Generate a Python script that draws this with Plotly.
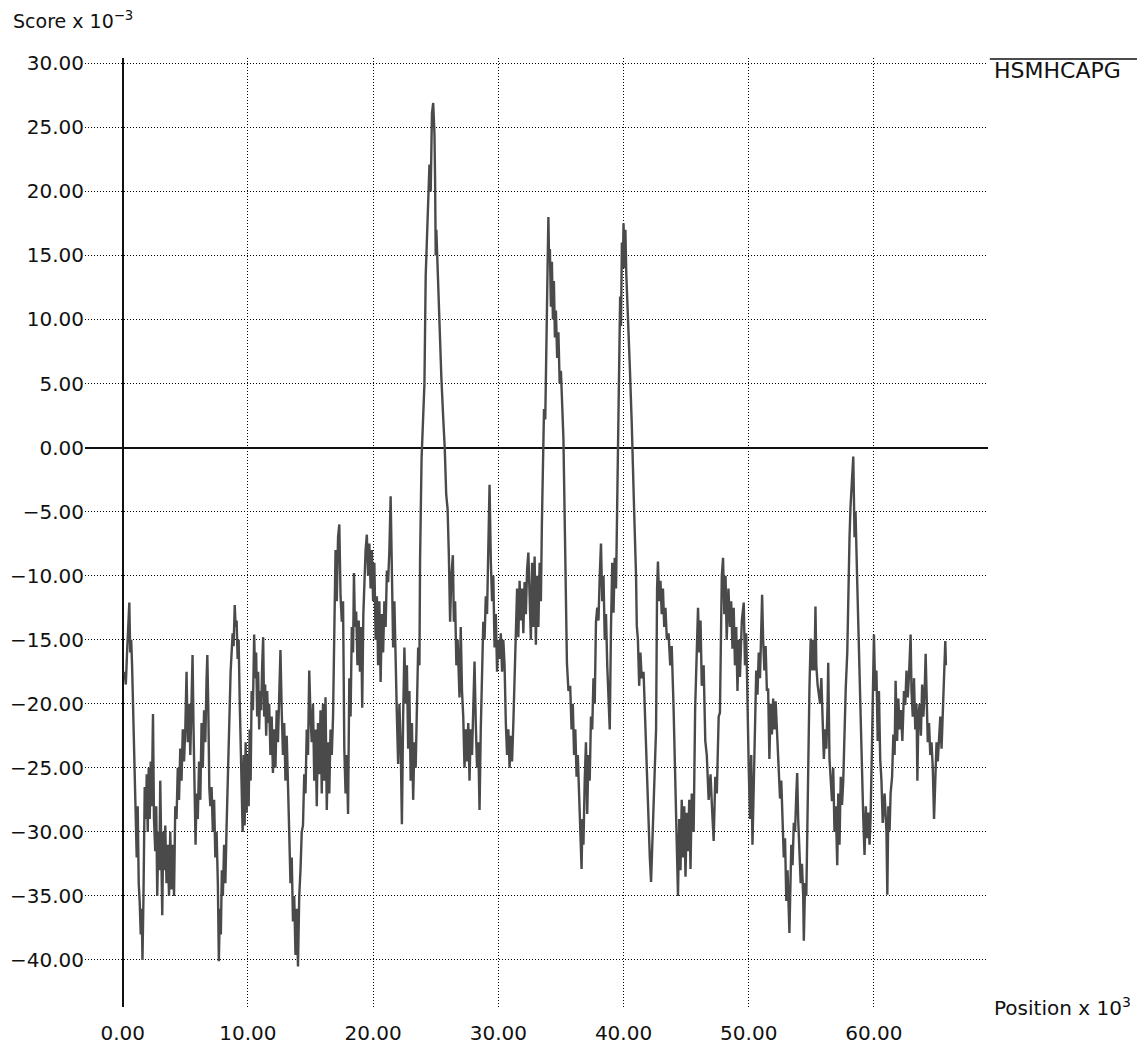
import plotly.graph_objects as go

# Position (x 10^3), Score (x 10^-3)
seg_0_16 = [(0.15,-17.5),(0.25,-18.5),(0.35,-16),(0.45,-13),(0.53,-12.1),(0.6,-16),(0.68,-15),(0.75,-17),(0.82,-20),(0.9,-22.5),
(0.97,-28),(1.05,-29),(1.12,-32),(1.2,-28),(1.28,-34),(1.36,-35.5),(1.44,-38),(1.52,-36),(1.58,-40),(1.66,-35),(1.72,-31),(1.76,-26.5),
(1.85,-29),(1.92,-25.5),(2.0,-30),(2.08,-25),(2.16,-29),(2.24,-24.5),(2.32,-28),(2.42,-20.8),(2.5,-29),(2.6,-31.5),(2.68,-28),(2.76,-35),
(2.85,-30),(2.93,-33),(3.0,-26),(3.08,-32),(3.16,-36.5),(3.24,-30),(3.32,-33),(3.4,-29.5),(3.5,-34),(3.6,-31),(3.7,-35),(3.8,-30),
(3.9,-34.5),(4.0,-31),(4.1,-35),(4.2,-28),(4.3,-29),(4.4,-25),(4.5,-27.5),(4.6,-23.5),(4.7,-26),(4.8,-22),(4.9,-24.5),(5.0,-22),
(5.1,-17.5),(5.2,-23),(5.3,-20),(5.4,-24),(5.5,-19),(5.58,-16.2),(5.66,-22),(5.74,-26.5),(5.82,-31),(5.9,-27),(6.0,-29),(6.1,-24.5),
(6.2,-27.5),(6.3,-21.5),(6.4,-25),(6.5,-20.5),(6.6,-23),(6.7,-18),(6.76,-16.2),(6.84,-20.5),(6.92,-26.6),(7.0,-28),(7.1,-26.5),(7.2,-30),
(7.3,-27.5),(7.4,-32),(7.5,-30),(7.6,-34),(7.68,-40.1),(7.76,-36),(7.84,-38),(7.92,-33),(8.0,-35),(8.1,-31),(8.2,-34),(8.3,-29.5),
(8.4,-25),(8.47,-24),(8.55,-20),(8.62,-17.5),(8.7,-16),(8.78,-14.5),(8.86,-15.5),(8.95,-12.3),(9.02,-14),(9.1,-13.5),(9.18,-16.5),
(9.26,-15),(9.34,-19.5),(9.42,-23),(9.5,-25),(9.58,-30),(9.66,-24),(9.74,-29.5),(9.82,-23),(9.9,-28.5),(9.98,-24),(10.06,-28),
(10.14,-22),(10.22,-26),(10.3,-19),(10.4,-20.5),(10.5,-14.6),(10.58,-18),(10.66,-16),(10.74,-21),(10.82,-17.5),(10.9,-22),(10.98,-19),
(11.06,-20.5),(11.14,-17),(11.22,-14.8),(11.3,-21),(11.38,-18.5),(11.46,-22.5),(11.54,-19),(11.62,-21.5),(11.7,-20),(11.8,-24),
(11.9,-21),(12.0,-25.4),(12.1,-22),(12.2,-25),(12.3,-20.5),(12.4,-23),(12.5,-18),(12.6,-15.8),(12.7,-20.5),(12.8,-24),(12.9,-21.5),
(13.0,-26),(13.1,-22.5),(13.2,-27.5),(13.3,-30),(13.4,-34),(13.5,-32),(13.6,-37),(13.7,-35),(13.8,-39.6),(13.9,-36),(14.0,-40.5),
(14.1,-35),(14.2,-33),(14.3,-30),(14.4,-29.5),(14.5,-25.5),(14.6,-27),(14.7,-22),(14.8,-24),(14.9,-17.4),(15.0,-21),(15.1,-23),
(15.2,-20),(15.3,-26),(15.4,-22),(15.5,-28),(15.6,-21.5),(15.7,-25.5),(15.8,-20.5)]

seg_16_32 = [(15.9,-27),(16.0,-20),(16.1,-26),(16.2,-19.5),(16.3,-28.3),(16.4,-23),(16.5,-27),(16.6,-22),(16.7,-24),(16.8,-21),
(16.9,-14),(17.0,-8),(17.1,-12),(17.2,-7),(17.3,-6),(17.4,-11.6),(17.5,-13.6),(17.6,-12),(17.7,-23.5),(17.8,-27),(17.9,-24),
(18.0,-28.6),(18.1,-18),(18.2,-21),(18.3,-14),(18.4,-16),(18.47,-9.8),(18.55,-14),(18.65,-12.8),(18.75,-17),(18.85,-13.5),
(18.95,-17.5),(19.05,-14),(19.13,-20.3),(19.22,-13),(19.3,-10),(19.4,-8),(19.5,-6.8),(19.6,-10),(19.7,-7.5),(19.8,-11),(19.9,-8),
(20.0,-12),(20.1,-9),(20.2,-15),(20.3,-11.6),(20.4,-17),(20.5,-12),(20.6,-18.3),(20.7,-13),(20.8,-16),(20.9,-12),(21.0,-14),
(21.1,-9.6),(21.2,-10.5),(21.3,-8),(21.4,-3.8),(21.5,-9.6),(21.6,-15.6),(21.7,-12),(21.8,-18.3),(21.9,-21),(22.0,-24.7),(22.1,-20),
(22.2,-23),(22.3,-29.4),(22.4,-21),(22.5,-15.6),(22.6,-20),(22.7,-17),(22.8,-23.5),(22.9,-19),(23.0,-26),(23.1,-21.5),(23.2,-27.5),
(23.3,-23),(23.4,-25),(23.5,-19.5),(23.6,-15.6),(23.7,-17),(23.75,-8.8),(23.87,-0.9),(24.0,3.1),(24.1,5),(24.2,13.4),(24.35,17.4),
(24.5,22.1),(24.6,20),(24.7,26.1),(24.8,26.9),(24.9,24.5),(24.95,21),(25.0,15),(25.05,17),(25.15,14.2),(25.3,8.7),(25.45,5.5),
(25.6,2.3),(25.72,0),(25.84,-3.7),(25.95,-4.8),(26.05,-8.4),(26.15,-13.6),(26.25,-10),(26.37,-8.4),(26.45,-13.6),(26.55,-12),
(26.65,-17),(26.75,-15),(26.9,-19.5),(27.0,-14),(27.1,-19),(27.2,-21),(27.3,-25),(27.4,-22),(27.5,-24.5),(27.6,-21.5),(27.7,-26),
(27.8,-22),(27.9,-24),(28.0,-21),(28.1,-16.7),(28.2,-21.5),(28.3,-25),(28.4,-23),(28.5,-28.3),(28.6,-22),(28.7,-18),(28.8,-13.6),
(28.9,-15),(29.0,-11.6),(29.1,-13),(29.2,-7),(29.3,-2.9),(29.4,-8.8),(29.5,-12),(29.6,-10),(29.7,-15.6),(29.8,-13),(29.9,-17.5),
(30.0,-15),(30.1,-16.5),(30.2,-14.5),(30.3,-17.5),(30.4,-15),(30.5,-17),(30.6,-21.5),(30.7,-24),(30.8,-22),(30.9,-25),(31.0,-22.5),
(31.1,-24.5),(31.2,-21.5),(31.3,-17.5),(31.4,-14.5),(31.5,-11),(31.6,-14.8),(31.7,-10.4),(31.8,-13.5),(31.9,-11),(32.0,-14.5),
(32.1,-10.5),(32.2,-13),(32.3,-9.5),(32.4,-8.2),(32.5,-12)]

seg_32_49 = [(32.6,-15),(32.7,-9),(32.8,-14),(32.9,-8.5),(33.0,-15.4),(33.1,-10),(33.2,-14),(33.3,-9),(33.4,-12),(33.48,-6),
(33.55,-3.2),(33.65,3),(33.75,2.2),(33.88,13.6),(33.95,15),(34.0,18),(34.05,14.8),(34.12,15.5),(34.2,11),(34.28,14.5),(34.36,10),
(34.44,13),(34.52,8.6),(34.6,10.7),(34.7,7),(34.8,9),(34.9,5),(35.0,6),(35.08,3),(35.2,0.7),(35.35,-8.6),(35.48,-16.8),(35.6,-19),
(35.74,-18.6),(35.85,-22),(35.95,-20),(36.05,-24),(36.15,-22),(36.25,-25.7),(36.35,-24),(36.45,-27),(36.55,-29.5),(36.65,-32.9),
(36.72,-29),(36.8,-31),(36.9,-26),(37.0,-23),(37.1,-28.6),(37.2,-24),(37.3,-26),(37.4,-21),(37.5,-22),(37.6,-18),(37.7,-20),
(37.8,-13.6),(37.9,-12.5),(38.0,-13.5),(38.1,-10),(38.2,-7.5),(38.3,-12),(38.4,-10),(38.5,-15),(38.6,-13),(38.7,-17),(38.8,-19),
(38.9,-22),(39.0,-14),(39.1,-9),(39.2,-12.9),(39.3,-8.6),(39.4,-11),(39.5,-4),(39.6,0.7),(39.73,11.8),(39.8,9.5),(39.87,16),
(39.95,14),(40.0,17.5),(40.08,14),(40.15,17),(40.22,13.6),(40.3,11),(40.4,8),(40.5,6.4),(40.66,1.8),(40.75,-0.7),(40.85,-5),
(41.0,-10),(41.06,-13.9),(41.15,-15),(41.25,-18.6),(41.35,-16),(41.45,-18),(41.6,-17.5),(41.73,-21.4),(41.8,-24.3),(41.9,-27.5),
(42.0,-30),(42.1,-32),(42.2,-33.9),(42.3,-31),(42.4,-28.6),(42.5,-24),(42.6,-22),(42.68,-11),(42.75,-8.9),(42.85,-12),(42.95,-10.4),
(43.05,-13),(43.15,-11),(43.25,-14),(43.35,-12.5),(43.46,-15),(43.6,-14.5),(43.73,-17),(43.85,-15.5),(44.0,-20.4),(44.13,-25.7),
(44.25,-30),(44.35,-35),(44.45,-29),(44.55,-33),(44.65,-27.5),(44.75,-32),(44.85,-28),(44.95,-33.5),(45.05,-28.5),(45.15,-31.5),
(45.25,-27.5),(45.35,-32.9),(45.45,-27),(45.6,-30),(45.72,-20.4),(45.86,-14),(45.95,-12.5),(46.05,-16),(46.15,-13.5),(46.25,-18.6),
(46.4,-17),(46.53,-22.9),(46.65,-24),(46.8,-27.5),(46.95,-25.5),(47.06,-28),(47.2,-30.7),(47.33,-25.7),(47.45,-27),(47.6,-21),
(47.7,-20.7),(47.85,-10),(47.95,-8.6),(48.05,-13),(48.15,-10),(48.24,-15),(48.38,-11),(48.5,-14),(48.6,-12),(48.7,-15.7),
(48.8,-12.5),(48.9,-17),(49.0,-14),(49.1,-19),(49.2,-15)]

seg_49_66 = [(49.3,-17.9),(49.45,-13.5),(49.6,-12.1),(49.7,-17),(49.8,-14.5),(49.9,-22),(50.0,-25),(50.1,-29),(50.2,-24),(50.3,-31),
(50.4,-26),(50.5,-22),(50.6,-17.4),(50.7,-19.3),(50.8,-16),(50.9,-18),(51.0,-14),(51.07,-11.5),(51.15,-15),(51.25,-17.4),(51.35,-15.5),
(51.45,-19),(51.55,-18.8),(51.65,-24.3),(51.75,-20),(51.85,-22.4),(51.95,-19.6),(52.05,-22),(52.15,-19.8),(52.25,-22.4),(52.4,-25.7),
(52.5,-27.4),(52.6,-26),(52.7,-29.9),(52.8,-32),(52.9,-30.5),(53.0,-35.4),(53.1,-33),(53.25,-37.9),(53.4,-31),(53.5,-32.6),(53.6,-29.3),
(53.7,-30),(53.8,-27),(53.87,-25.4),(53.95,-29),(54.05,-31.5),(54.15,-34),(54.25,-32.5),(54.35,-35),(54.4,-38.5),(54.5,-34),(54.6,-35),
(54.67,-30.7),(54.77,-21),(54.85,-18.75),(54.95,-14.9),(55.05,-17.4),(55.15,-15),(55.25,-17.4),(55.33,-12.4),(55.4,-17),(55.5,-18.5),
(55.6,-19.3),(55.7,-20),(55.8,-18),(55.9,-21.5),(56.0,-24.3),(56.1,-22),(56.2,-23.5),(56.3,-20),(56.35,-16.8),(56.45,-24.3),(56.55,-26),
(56.65,-27.6),(56.75,-25),(56.85,-30),(56.95,-28),(57.07,-32.6),(57.15,-27),(57.25,-31),(57.35,-25.7),(57.45,-27.9),(57.55,-26),
(57.65,-22),(57.75,-18.75),(57.87,-16),(57.95,-11),(58.05,-7),(58.13,-4.6),(58.2,-3.2),(58.35,-0.7),(58.45,-7),(58.53,-5),(58.65,-9.9),
(58.72,-12.9),(58.8,-14.6),(58.93,-20.1),(59.05,-27),(59.15,-29),(59.25,-31.8),(59.35,-28),(59.45,-30.5),(59.55,-28.5),(59.65,-31),
(59.73,-29),(59.85,-22.9),(59.95,-17),(60.0,-14.6),(60.1,-19),(60.2,-17.4),(60.3,-22.9),(60.4,-19),(60.5,-24.3),(60.6,-26),(60.7,-29.3),
(60.85,-27),(61.0,-30),(61.07,-34.9),(61.15,-28),(61.25,-29.9),(61.33,-27),(61.45,-25.7),(61.55,-22.4),(61.65,-24),(61.73,-18.2),
(61.85,-22.9),(61.95,-19.6),(62.05,-22),(62.15,-20.5),(62.27,-22.9),(62.4,-19),(62.5,-20.1),(62.6,-17.4),(62.7,-19.5),(62.8,-17.8),
(62.93,-14.6),(63.0,-19),(63.1,-21),(63.2,-18),(63.3,-22),(63.4,-20),(63.47,-26),(63.55,-21),(63.65,-20),(63.75,-22.5),(63.85,-18.5),
(63.95,-21),(64.05,-19),(64.13,-16.1),(64.2,-20.1),(64.3,-23),(64.4,-21.5),(64.5,-24),(64.6,-23),(64.7,-25),(64.8,-29),(64.9,-25.7),
(65.0,-23),(65.1,-24.5),(65.2,-22.9),(65.3,-21),(65.4,-23.5),(65.5,-20),(65.6,-17.4),(65.7,-15.1),(65.75,-17)]

x_ticks = [0, 10, 20, 30, 40, 50, 60]
x_tick_text = ["0.00", "10.00", "20.00", "30.00", "40.00", "50.00", "60.00"]
y_ticks = [30, 25, 20, 15, 10, 5, 0, -5, -10, -15, -20, -25, -30, -35, -40]
y_tick_text = ["30.00", "25.00", "20.00", "15.00", "10.00", "5.00", "0.00", "\u22125.00", "\u221210.00",
               "\u221215.00", "\u221220.00", "\u221225.00", "\u221230.00", "\u221235.00", "\u221240.00"]
series_name = "HSMHCAPG"

points = seg_0_16 + seg_16_32 + seg_32_49 + seg_49_66
positions = [p for p, _ in points]
scores = [s for _, s in points]

FONT = "DejaVu Sans"

fig = go.Figure()
fig.add_trace(go.Scatter(x=positions, y=scores, mode="lines",
                         line=dict(color="#4a4a4a", width=2.4), showlegend=False,
                         name=series_name))

axis_common = dict(showgrid=True, gridcolor="#000000", gridwidth=1, griddash="1px,2px",
                   zeroline=True, zerolinecolor="#111111", zerolinewidth=2, automargin=False,
                   showline=False, ticks="", tickfont=dict(family=FONT, size=20, color="#111"))

fig.update_xaxes(range=[-3.01, 69.11], tickvals=x_ticks, ticktext=x_tick_text,
                 ticklabelstandoff=12, **axis_common)
fig.update_yaxes(range=[-43.67, 30.41], tickvals=y_ticks, ticktext=y_tick_text,
                 ticklabelstandoff=0, **axis_common)

fig.update_layout(
    width=1143, height=1051,
    margin=dict(l=85, r=155, t=58, b=44),
    plot_bgcolor="white", paper_bgcolor="white",
    font=dict(family=FONT, color="#111"),
    annotations=[
        dict(text="Score x 10<sup>\u22123</sup>", xref="paper", yref="paper", x=-0.082, y=1.04,
             xanchor="left", yanchor="middle", showarrow=False, font=dict(family=FONT, size=19)),
        dict(text="Position x 10<sup>3</sup>", xref="paper", yref="paper", x=1.004, y=0.0,
             xanchor="left", yanchor="middle", showarrow=False, font=dict(family=FONT, size=20)),
        dict(text=series_name, xref="paper", yref="paper", x=1.004, y=0.9865,
             xanchor="left", yanchor="middle", showarrow=False, font=dict(family=FONT, size=22)),
    ],
    shapes=[dict(type="line", xref="paper", yref="paper", x0=1.002, x1=1.165, y0=0.999, y1=0.999,
                 line=dict(color="#111", width=1.5))],
)

fig.write_html("out.html", config={"displayModeBar": False},
               post_script="document.body.style.margin='0px';")
